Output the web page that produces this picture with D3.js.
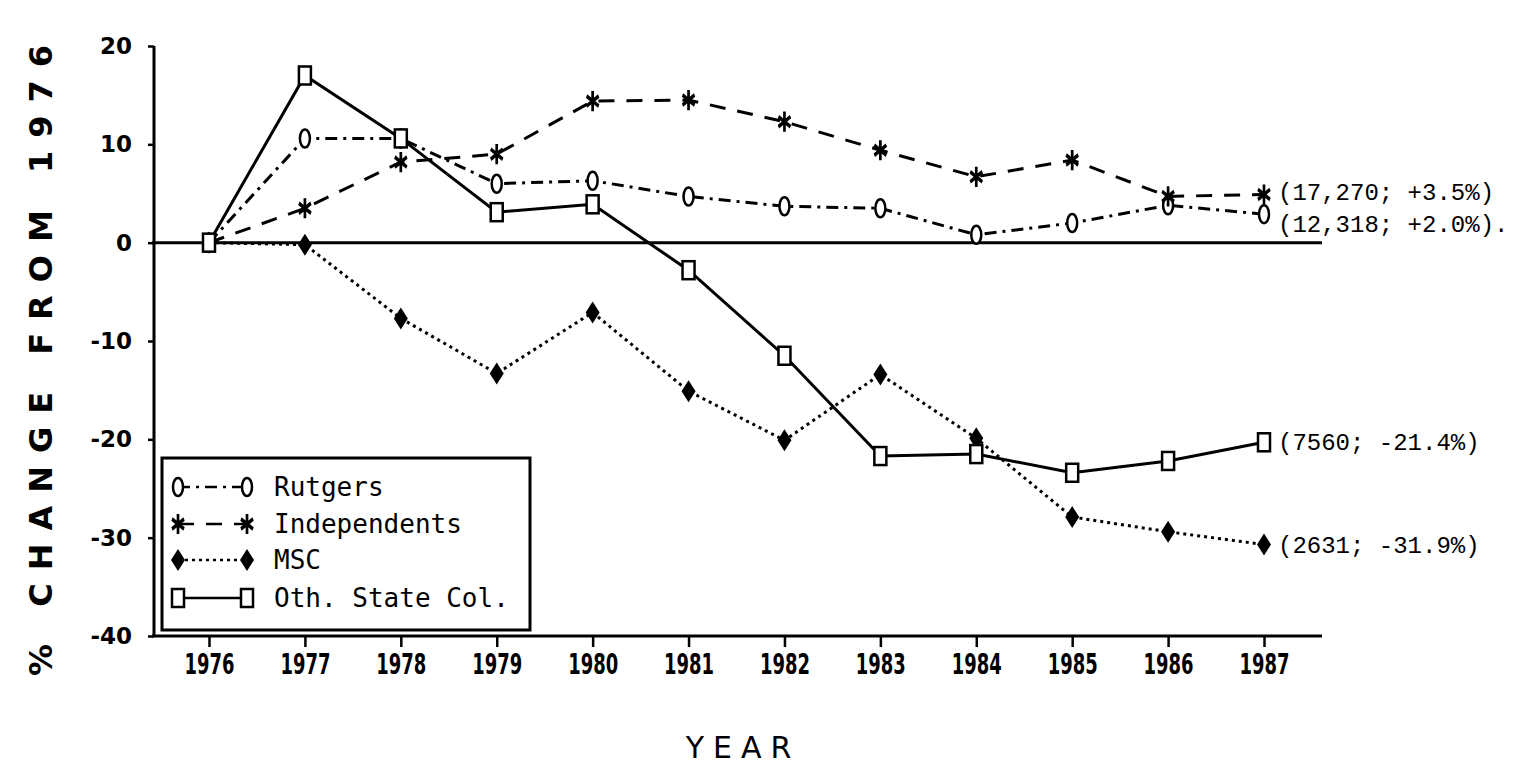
<!DOCTYPE html>
<html>
<head>
<meta charset="utf-8">
<script src="https://cdn.jsdelivr.net/npm/d3@7"></script>
<style>
  body { margin: 0; background: #fff; }
  svg { display: block; }
</style>
</head>
<body>
<script>
var years = [1976, 1977, 1978, 1979, 1980, 1981, 1982, 1983, 1984, 1985, 1986, 1987];
var rutgers = [0, 10.6, 10.6, 6.0, 6.3, 4.7, 3.7, 3.5, 0.8, 2.0, 3.8, 2.9];
var independents = [0, 3.5, 8.2, 9.0, 14.4, 14.5, 12.3, 9.4, 6.7, 8.4, 4.7, 4.9];
var msc = [0, -0.2, -7.7, -13.3, -7.1, -15.1, -20.1, -13.4, -19.9, -27.9, -29.4, -30.7];
var othState = [0, 17.0, 10.6, 3.1, 3.9, -2.8, -11.5, -21.7, -21.5, -23.4, -22.2, -20.3];
var yTicks = [20, 10, 0, -10, -20, -30, -40];
var seriesNames = ["Rutgers", "Independents", "MSC", "Oth. State Col."];
var endLabels = ["(12,318; +2.0%).", "(17,270; +3.5%)", "(2631; -31.9%)", "(7560; -21.4%)"];

var width = 1535, height = 769;
var svg = d3.select("body").append("svg").attr("width", width).attr("height", height);

var x = d3.scaleLinear().domain([1976, 1987]).range([209, 1264]);
var y = d3.scaleLinear().domain([-40, 20]).range([636, 46]);

var series = [
  {name: seriesNames[0], values: rutgers, dash: "12,6,3,6", marker: "circle", label: endLabels[0], dy: 10},
  {name: seriesNames[1], values: independents, dash: "16,12", marker: "star", label: endLabels[1], dy: -2},
  {name: seriesNames[2], values: msc, dash: "3,4", marker: "diamond", label: endLabels[2], dy: 0},
  {name: seriesNames[3], values: othState, dash: null, marker: "square", label: endLabels[3], dy: 0}
];

// axes
var yAxis = svg.append("g").attr("transform", "translate(154,0)")
  .call(d3.axisLeft(y).tickValues(yTicks).tickSize(6).tickFormat(d => d));
yAxis.select(".domain").attr("stroke-width", 3).attr("d", "M0," + y(20) + "V" + y(-40));
yAxis.selectAll(".tick line").attr("stroke-width", 2.5);
yAxis.selectAll("text")
  .attr("x", -22)
  .attr("font-family", "DejaVu Sans")
  .attr("font-weight", "bold")
  .attr("font-size", 23)
  .attr("fill", "#000");

var xAxis = svg.append("g").attr("transform", "translate(0," + y(-40) + ")")
  .call(d3.axisBottom(x).tickValues(years).tickSize(11).tickFormat(d => d));
xAxis.select(".domain").attr("stroke-width", 3).attr("d", "M152,0H1322");
xAxis.selectAll(".tick line").attr("stroke-width", 2.5);
xAxis.selectAll("text")
  .attr("y", 17)
  .attr("transform", "scale(0.62,1)")
  .attr("font-family", "DejaVu Sans")
  .attr("font-weight", "bold")
  .attr("font-size", 29)
  .attr("fill", "#000");

// zero line
svg.append("line")
  .attr("x1", 152).attr("x2", 1322)
  .attr("y1", y(0)).attr("y2", y(0))
  .attr("stroke", "#000").attr("stroke-width", 3);

// axis titles
svg.append("text")
  .attr("transform", "translate(52,354) rotate(-90)")
  .attr("text-anchor", "middle")
  .attr("font-family", "DejaVu Sans")
  .attr("font-weight", "bold")
  .attr("font-size", 32)
  .attr("letter-spacing", 13)
  .attr("fill", "#000")
  .text("% CHANGE FROM 1976");

svg.append("text")
  .attr("x", 743).attr("y", 758)
  .attr("text-anchor", "middle")
  .attr("font-family", "DejaVu Sans")
  .attr("font-size", 30)
  .attr("letter-spacing", 9)
  .attr("fill", "#000")
  .text("YEAR");

function drawMarker(g, type, cx, cy) {
  if (type == "circle") {
    g.append("ellipse").attr("cx", cx).attr("cy", cy).attr("rx", 5).attr("ry", 9)
      .attr("fill", "#fff").attr("stroke", "#000").attr("stroke-width", 2.5);
  } else if (type == "square") {
    g.append("rect").attr("x", cx - 6).attr("y", cy - 9).attr("width", 12).attr("height", 18)
      .attr("fill", "#fff").attr("stroke", "#000").attr("stroke-width", 2.5);
  } else if (type == "diamond") {
    g.append("path").attr("d", "M" + cx + "," + (cy - 11) + "L" + (cx + 7) + "," + cy + "L" + cx + "," + (cy + 11) + "L" + (cx - 7) + "," + cy + "Z")
      .attr("fill", "#000");
  } else {
    g.append("path").attr("transform", "translate(" + cx + "," + cy + ") scale(0.9,1.3)")
      .attr("d", d3.symbol(d3.symbolAsterisk, 170)())
      .attr("fill", "none").attr("stroke", "#000").attr("stroke-width", 3);
  }
}

var line = d3.line().x((d, i) => x(years[i])).y(d => y(d));

series.forEach(function(s) {
  svg.append("path")
    .attr("d", line(s.values))
    .attr("fill", "none")
    .attr("stroke", "#000")
    .attr("stroke-width", 3)
    .attr("stroke-dasharray", s.dash);
  var g = svg.append("g");
  s.values.forEach(function(v, i) { drawMarker(g, s.marker, x(years[i]), y(v)); });
  svg.append("text")
    .attr("x", x(1987) + 14)
    .attr("y", y(s.values[s.values.length - 1]) + 8 + s.dy)
    .attr("font-family", "Liberation Mono")
    .attr("font-size", 24)
    .attr("fill", "#000")
    .text(s.label);
});

// legend
var legend = svg.append("g");
legend.append("rect")
  .attr("x", 162).attr("y", 458).attr("width", 368).attr("height", 172)
  .attr("fill", "#fff").attr("stroke", "#000").attr("stroke-width", 3);
var rowY = [487, 524, 560, 598];
series.forEach(function(s, i) {
  legend.append("line")
    .attr("x1", 178).attr("x2", 247).attr("y1", rowY[i]).attr("y2", rowY[i])
    .attr("stroke", "#000").attr("stroke-width", 2.5)
    .attr("stroke-dasharray", s.dash);
  drawMarker(legend, s.marker, 178, rowY[i]);
  drawMarker(legend, s.marker, 247, rowY[i]);
  legend.append("text")
    .attr("x", 274).attr("y", rowY[i] + 9)
    .attr("font-family", "DejaVu Sans Mono")
    .attr("font-size", 26)
    .attr("fill", "#000")
    .text(s.name);
});
</script>
</body>
</html>
